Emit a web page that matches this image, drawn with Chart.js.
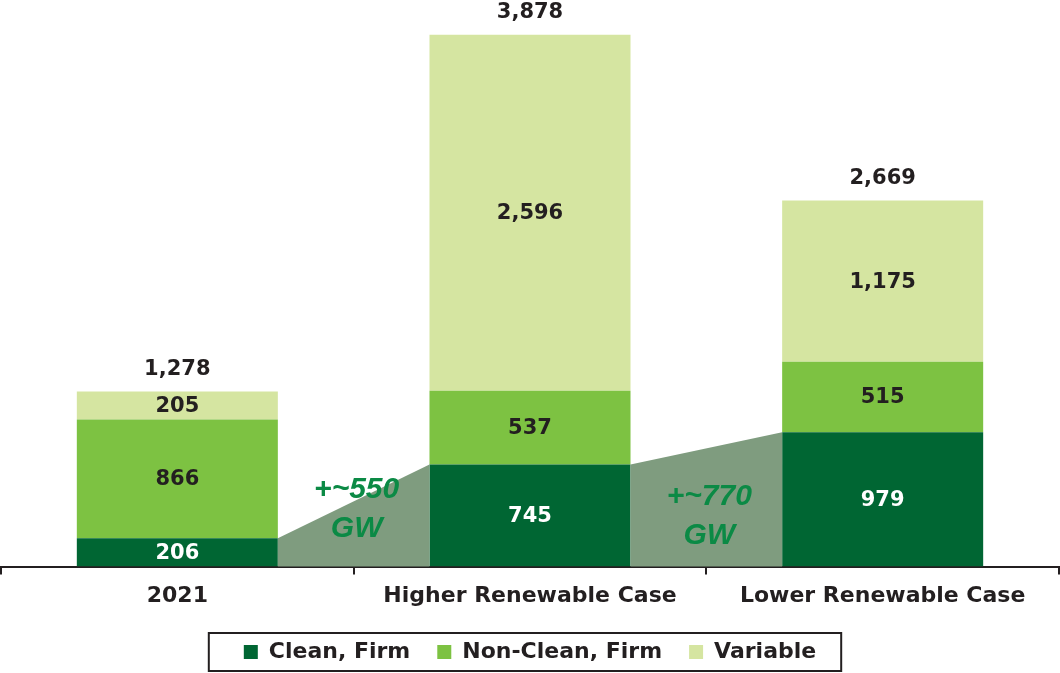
<!DOCTYPE html>
<html>
<head>
<meta charset="utf-8">
<style>
  html, body { margin: 0; padding: 0; background: #fff; }
  #wrap { width: 1060px; height: 673px; position: relative; }
</style>
</head>
<body>
<div id="wrap">
  <canvas id="capacityChart"></canvas>
</div>

<script src="https://cdn.jsdelivr.net/npm/chart.js"></script>

<script>
  // capacity by case, GW
  const categories = ['2021', 'Higher Renewable Case', 'Lower Renewable Case'];
  const cleanFirm = [206, 745, 979];
  const nonCleanFirm = [866, 537, 515];
  const variable = [205, 2596, 1175];
  const totals = [1278, 3878, 2669];
  const deltaLabels = ['+~550', '+~770'];

  const FONT = '"DejaVu Sans", sans-serif';

  function fmt(v) {
      return v.toLocaleString('en-US');
  }

  // grey wedges between the clean firm segments, with the growth labels
  const wedgePlugin = {
      id: 'wedges',
      afterDatasetsDraw(chart) {
          const ctx = chart.ctx;
          const bars = chart.getDatasetMeta(0).data;
          for (let i = 0; i < bars.length - 1; i++) {
              const a = bars[i], b = bars[i + 1];
              const x1 = a.x + a.width / 2;
              const x2 = b.x - b.width / 2;
              ctx.save();
              ctx.fillStyle = '#7f9c7f';
              ctx.beginPath();
              ctx.moveTo(x1, a.base);
              ctx.lineTo(x1, a.y);
              ctx.lineTo(x2, b.y);
              ctx.lineTo(x2, b.base);
              ctx.closePath();
              ctx.fill();

              const cx = (x1 + x2) / 2 + 3;
              ctx.fillStyle = '#0b8a45';
              ctx.font = 'italic bold 30px "Liberation Sans", Arial, sans-serif';
              ctx.textAlign = 'center';
              ctx.textBaseline = 'middle';
              const off = i === 0 ? 0 : 7;
              ctx.fillText(deltaLabels[i], cx, a.base - 77 + off);
              ctx.fillText('GW', cx, a.base - 38 + off);
              ctx.restore();
          }
      }
  };

  // value labels inside each segment and totals on top
  const labelPlugin = {
      id: 'segLabels',
      afterDatasetsDraw(chart) {
          const ctx = chart.ctx;
          ctx.save();
          ctx.font = 'bold 21px ' + FONT;
          ctx.textAlign = 'center';
          ctx.textBaseline = 'middle';
          chart.data.datasets.forEach((ds, di) => {
              chart.getDatasetMeta(di).data.forEach((el, i) => {
                  ctx.fillStyle = di === 0 ? '#ffffff' : '#231f20';
                  ctx.fillText(fmt(ds.data[i]), el.x, (el.y + el.base) / 2 + 1);
              });
          });
          const top = chart.getDatasetMeta(2).data;
          ctx.fillStyle = '#231f20';
          top.forEach((el, i) => {
              ctx.fillText(fmt(totals[i]), el.x, el.y - 22);
          });
          ctx.restore();
      }
  };

  // box round the legend items
  const legendBox = {
      id: 'legendBox',
      afterDraw(chart) {
          const boxes = chart.legend.legendHitBoxes;
          if (!boxes || !boxes.length) return;
          const left = Math.min(...boxes.map(b => b.left)) - 35;
          const right = Math.max(...boxes.map(b => b.left + b.width)) + 25;
          const mid = boxes[0].top + boxes[0].height / 2;
          const ctx = chart.ctx;
          ctx.save();
          ctx.strokeStyle = '#231f20';
          ctx.lineWidth = 2;
          ctx.strokeRect(left, mid - 19, right - left, 38);
          ctx.restore();
      }
  };

  const ctx = document.getElementById('capacityChart');
  const capacityChart = new Chart(ctx, {
      type: 'bar',
      plugins: [wedgePlugin, labelPlugin, legendBox],
      data: {
          labels: categories,
          datasets: [
              {
                  label: 'Clean, Firm',
                  data: cleanFirm,
                  backgroundColor: '#006633',
                  borderWidth: 0,
                  categoryPercentage: 1,
                  barPercentage: 0.57,
              },
              {
                  label: 'Non-Clean, Firm',
                  data: nonCleanFirm,
                  backgroundColor: '#7dc242',
                  borderWidth: 0,
                  categoryPercentage: 1,
                  barPercentage: 0.57,
              },
              {
                  label: 'Variable',
                  data: variable,
                  backgroundColor: '#d5e5a1',
                  borderWidth: 0,
                  categoryPercentage: 1,
                  barPercentage: 0.57,
              },
          ]
      },
      options: {
          responsive: true,
          maintainAspectRatio: false,
          animation: false,
          layout: {
              padding: { top: 18, left: 1, right: 1, bottom: 0 }
          },
          plugins: {
              legend: {
                  position: 'bottom',
                  labels: {
                      boxWidth: 14,
                      boxHeight: 14,
                      padding: 27,
                      color: '#231f20',
                      font: { family: FONT, size: 22, weight: 'bold' },
                  },
              },
              title: { display: false },
              tooltip: { enabled: false },
          },
          scales: {
              x: {
                  stacked: true,
                  afterFit(scale) {
                      scale.height -= 3;
                  },
                  grid: {
                      display: true,
                      drawOnChartArea: false,
                      drawTicks: true,
                      tickLength: 8,
                      color: '#231f20',
                      lineWidth: 2,
                  },
                  border: { display: true, color: '#231f20', width: 2 },
                  ticks: {
                      color: '#231f20',
                      padding: 8,
                      font: { family: FONT, size: 22, weight: 'bold' },
                  },
              },
              y: {
                  stacked: true,
                  display: false,
                  min: 0,
                  max: 4000,
              }
          }
      }
  });
</script>
</body>
</html>
